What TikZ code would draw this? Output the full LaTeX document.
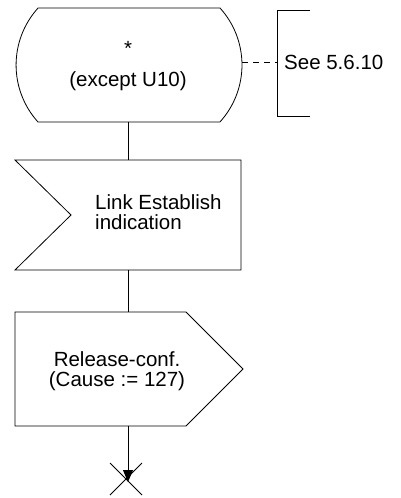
\documentclass[tikz,border=0pt]{standalone}
\usepackage{fontspec}
\setmainfont{Liberation Sans}
\usetikzlibrary{arrows.meta}
\begin{document}
\begin{tikzpicture}[x=1pt,y=1pt,
  shapeline/.style={draw=black,line width=0.8pt},
  conn/.style={draw=black,line width=0.8pt},
  lbl/.style={inner sep=0pt,font=\fontsize{20.5}{20}\selectfont}]
\useasboundingbox (0,0) rectangle (401,-498);
% state shape
\draw[shapeline] (38,-8) -- (220,-8) arc[start angle=42.2,end angle=-42.2,radius=84.8]
  -- (38,-122) arc[start angle=222.1,end angle=137.9,radius=84.96] -- cycle;
\coordinate (stB) at (128,-122);
\coordinate (stR) at (242,-62);
\node[lbl,anchor=base] (star) at (128,-55) {*};
\node[lbl,anchor=base] (exc) at (128,-86) {(except U10)};
% comment bracket
\draw[shapeline] (310,-10) -- (277,-10) -- (277,-116) -- (310,-116);
\coordinate (brL) at (277,-62);
\node[lbl,anchor=west] (see) at (284,-62) {See 5.6.10};
\draw[conn,dash pattern=on 6pt off 5pt] (stR) -- (brL);
% input shape
\draw[shapeline] (15,-160) -- (241,-160) -- (241,-270) -- (15,-270) -- (71,-215) -- cycle;
\coordinate (inT) at (128,-160);
\coordinate (inB) at (128,-270);
\node[lbl,anchor=base west] (in1) at (95,-209) {Link Establish};
\node[lbl,anchor=base west] (in2) at (95,-229) {indication};
% output shape
\draw[shapeline] (15,-312) -- (186,-312) -- (243,-369) -- (186,-426) -- (15,-426) -- cycle;
\coordinate (outT) at (128,-312);
\coordinate (outB) at (128,-426);
\node[lbl,anchor=base] (out1) at (117,-366) {Release-conf.};
\node[lbl,anchor=base] (out2) at (117,-386) {(Cause := 127)};
% connectors
\draw[conn] (stB) -- (inT);
\draw[conn] (inB) -- (outT);
\coordinate (stop) at (128,-482);
\draw[conn,-{Triangle[length=12pt,width=10pt]}] (outB) -- (stop);
\draw[conn] (110,-463) -- (142,-495);
\draw[conn] (142,-463) -- (110,-495);
\end{tikzpicture}
\end{document}
